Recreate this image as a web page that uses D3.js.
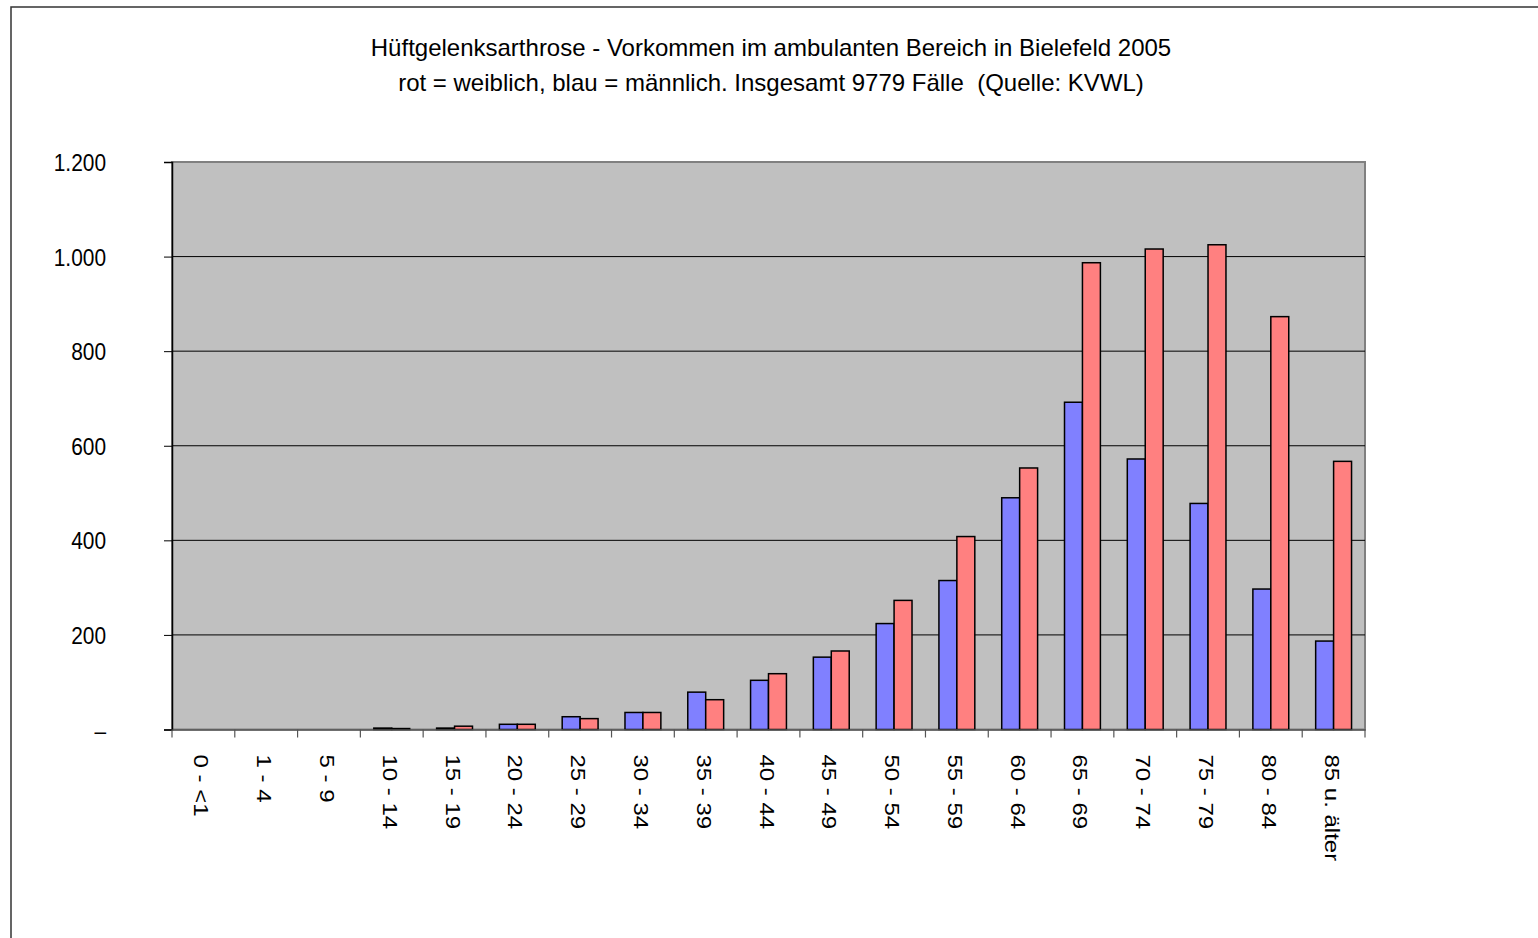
<!DOCTYPE html>
<html><head><meta charset="utf-8">
<script src="https://cdn.jsdelivr.net/npm/d3@7"></script>
<style>html,body{margin:0;padding:0;background:#fff;}svg{display:block;}text{white-space:pre;}</style>
</head><body>
<script>
const categories = ["0 - <1","1 - 4","5 - 9","10 - 14","15 - 19","20 - 24","25 - 29","30 - 34","35 - 39","40 - 44","45 - 49","50 - 54","55 - 59","60 - 64","65 - 69","70 - 74","75 - 79","80 - 84","85 u. älter"];
const maleValues   = [0,0,0,3,3,11,27,36,79,104,153,224,315,490,692,572,478,297,187];
const femaleValues = [0,0,0,2,7,11,23,36,63,118,166,273,408,553,987,1016,1025,873,567];
const yTicks = [0,200,400,600,800,1000,1200];
const titleLines = ["Hüftgelenksarthrose - Vorkommen im ambulanten Bereich in Bielefeld 2005",
                    "rot = weiblich, blau = männlich. Insgesamt 9779 Fälle  (Quelle: KVWL)"];
const seriesNames = ["männlich","weiblich"];
const seriesColors = ["#8080FF","#FF8080"];

const W = 1538, H = 938;
const m = {left:172, right:1365, top:162, bottom:729.5};
const font = "'Liberation Sans', Arial, sans-serif";

const svg = d3.select("body").append("svg").attr("width",W).attr("height",H);

// outer frame
svg.append("rect").attr("x",11).attr("y",7).attr("width",W+20).attr("height",H+20)
  .attr("fill","#fff").attr("stroke","#333").attr("stroke-width",1.5);

// title
svg.append("g").selectAll("text").data(titleLines).join("text")
  .attr("x",771).attr("y",(d,i)=>56+i*35)
  .attr("text-anchor","middle").attr("font-family",font).attr("font-size",24)
  .attr("fill","#000").attr("xml:space","preserve").text(d=>d);

const x = d3.scaleBand().domain(categories).range([m.left,m.right]).paddingInner(0).paddingOuter(0);
const barW = x.bandwidth()/3.5;
const x1 = d3.scaleBand().domain(seriesNames).range([0.75*barW, 2.75*barW]);
const y = d3.scaleLinear().domain([0,1200]).range([m.bottom,m.top]);

// plot area
svg.append("rect").attr("x",m.left).attr("y",m.top).attr("width",m.right-m.left).attr("height",m.bottom-m.top)
  .attr("fill","#C0C0C0").attr("stroke","#808080").attr("stroke-width",2);

// gridlines
svg.append("g").selectAll("line").data(yTicks.filter(t=>t>0 && t<1200)).join("line")
  .attr("x1",m.left).attr("x2",m.right).attr("y1",d=>y(d)).attr("y2",d=>y(d))
  .attr("stroke","#000").attr("stroke-width",1);

// bars
const data = categories.map((c,i)=>({c, vals:[maleValues[i],femaleValues[i]]}));
const g = svg.append("g").selectAll("g").data(data).join("g")
  .attr("transform",d=>`translate(${x(d.c)},0)`);
g.selectAll("rect").data(d=>d.vals.map((v,j)=>({v,j}))).join("rect")
  .filter(d=>d.v>0)
  .attr("x",d=>x1(seriesNames[d.j])).attr("width",x1.bandwidth())
  .attr("y",d=>y(d.v)).attr("height",d=>y(0)-y(d.v))
  .attr("fill",d=>seriesColors[d.j]).attr("stroke","#000").attr("stroke-width",1.5);

// y axis
const yAxis = d3.axisLeft(y).tickValues(yTicks).tickSize(8).tickPadding(0)
  .tickFormat(d=>d===0?"–":d3.format(",")(d).replace(/,/g,"."));
const ya = svg.append("g").attr("transform",`translate(${m.left},0)`).call(yAxis);
ya.select(".domain").attr("stroke","#000").attr("stroke-width",1.5);
ya.selectAll(".tick line").attr("stroke","#000");
ya.selectAll(".tick text").attr("x",null)
  .attr("transform","translate(-66,0) scale(0.87,1)").attr("dy","0.36em")
  .attr("font-family",font).attr("font-size",24).attr("fill","#000");

// x axis
const xa = svg.append("g").attr("transform",`translate(0,${m.bottom})`)
  .call(d3.axisBottom(x).tickSize(0).tickFormat(""));
xa.select(".domain").attr("stroke","#555").attr("stroke-width",1.5);
const bounds = categories.map(c=>x(c)).concat([m.right]);
xa.append("g").selectAll("line").data(bounds).join("line")
  .attr("x1",d=>d).attr("x2",d=>d).attr("y1",0).attr("y2",8)
  .attr("stroke","#555").attr("stroke-width",1.2);
xa.append("g").selectAll("text").data(categories).join("text")
  .attr("transform",d=>`translate(${x(d)+x.bandwidth()/2-9},25) rotate(90) scale(1,0.87)`)
  .attr("text-anchor","start").attr("font-family",font).attr("font-size",24)
  .attr("fill","#000").text(d=>d);
</script>
</body></html>
